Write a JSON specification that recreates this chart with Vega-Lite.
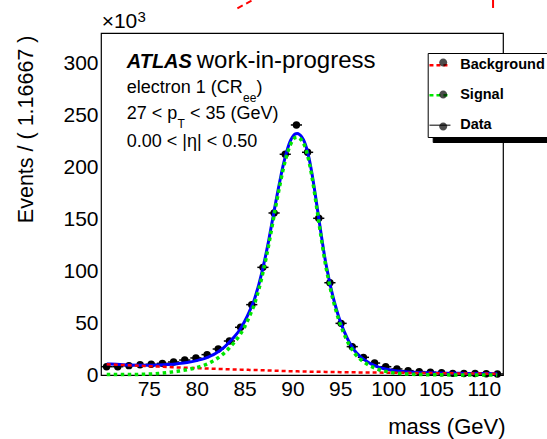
{
  "$schema": "https://vega.github.io/schema/vega-lite/v6.json",
  "autosize": {"type": "none"},
  "width": 402,
  "height": 342,
  "padding": {"left": 101, "top": 33, "right": 44, "bottom": 64},
  "background": "#ffffff",
  "config": {
    "font": "Liberation Sans",
    "view": {"stroke": "#000000", "strokeWidth": 1.2},
    "axis": {"grid": false, "domain": false, "labelFont": "Liberation Sans", "labelFontSize": 21, "labelColor": "#000000", "tickColor": "#000000", "tickWidth": 1, "titleFont": "Liberation Sans", "titleFontWeight": "normal", "titleColor": "#000000", "labelOverlap": false, "labelFlush": false, "tickSize": 0}
  },
  "datasets": {
    "bins": [
      {"mass": 70.583, "lo": 70.0, "hi": 71.167, "events": 8.0},
      {"mass": 71.75, "lo": 71.167, "hi": 72.333, "events": 8.0},
      {"mass": 72.917, "lo": 72.333, "hi": 73.5, "events": 9.0},
      {"mass": 74.083, "lo": 73.5, "hi": 74.667, "events": 9.9},
      {"mass": 75.25, "lo": 74.667, "hi": 75.833, "events": 10.3},
      {"mass": 76.417, "lo": 75.833, "hi": 77.0, "events": 11.2},
      {"mass": 77.583, "lo": 77.0, "hi": 78.167, "events": 12.5},
      {"mass": 78.75, "lo": 78.167, "hi": 79.333, "events": 14.4},
      {"mass": 79.917, "lo": 79.333, "hi": 80.5, "events": 16.4},
      {"mass": 81.083, "lo": 80.5, "hi": 81.667, "events": 19.6},
      {"mass": 82.25, "lo": 81.667, "hi": 82.833, "events": 25.0},
      {"mass": 83.417, "lo": 82.833, "hi": 84.0, "events": 32.7},
      {"mass": 84.583, "lo": 84.0, "hi": 85.167, "events": 45.9},
      {"mass": 85.75, "lo": 85.167, "hi": 86.333, "events": 67.7},
      {"mass": 86.917, "lo": 86.333, "hi": 87.5, "events": 103.6},
      {"mass": 88.083, "lo": 87.5, "hi": 88.667, "events": 155.9},
      {"mass": 89.25, "lo": 88.667, "hi": 89.833, "events": 212.4},
      {"mass": 90.417, "lo": 89.833, "hi": 91.0, "events": 240.6},
      {"mass": 91.583, "lo": 91.0, "hi": 92.167, "events": 214.3},
      {"mass": 92.75, "lo": 92.167, "hi": 93.333, "events": 150.8},
      {"mass": 93.917, "lo": 93.333, "hi": 94.5, "events": 88.8},
      {"mass": 95.083, "lo": 94.5, "hi": 95.667, "events": 49.7},
      {"mass": 96.25, "lo": 95.667, "hi": 96.833, "events": 27.3},
      {"mass": 97.417, "lo": 96.833, "hi": 98.0, "events": 17.0},
      {"mass": 98.583, "lo": 98.0, "hi": 99.167, "events": 11.5},
      {"mass": 99.75, "lo": 99.167, "hi": 100.333, "events": 8.0},
      {"mass": 100.917, "lo": 100.333, "hi": 101.5, "events": 5.8},
      {"mass": 102.083, "lo": 101.5, "hi": 102.667, "events": 4.2},
      {"mass": 103.25, "lo": 102.667, "hi": 103.833, "events": 3.2},
      {"mass": 104.417, "lo": 103.833, "hi": 105.0, "events": 2.6},
      {"mass": 105.583, "lo": 105.0, "hi": 106.167, "events": 2.2},
      {"mass": 106.75, "lo": 106.167, "hi": 107.333, "events": 1.6},
      {"mass": 107.917, "lo": 107.333, "hi": 108.5, "events": 1.5},
      {"mass": 109.083, "lo": 108.5, "hi": 109.667, "events": 1.4},
      {"mass": 110.25, "lo": 109.667, "hi": 110.833, "events": 1.2},
      {"mass": 111.417, "lo": 110.833, "hi": 112.0, "events": 1.0}
    ],
    "curves": [
      {"mass": 70.6, "total": 10.7, "background": 10.3, "signal": 0.4},
      {"mass": 71, "total": 10.5, "background": 10.13, "signal": 0.4},
      {"mass": 72, "total": 10.1, "background": 9.7, "signal": 0.4},
      {"mass": 73, "total": 9.7, "background": 9.3, "signal": 0.4},
      {"mass": 74, "total": 9.5, "background": 8.9, "signal": 0.6},
      {"mass": 75, "total": 9.4, "background": 8.5, "signal": 0.9},
      {"mass": 76, "total": 9.6, "background": 8.1, "signal": 1.5},
      {"mass": 77, "total": 10.1, "background": 7.7, "signal": 2.4},
      {"mass": 78, "total": 10.9, "background": 7.3, "signal": 3.6},
      {"mass": 79, "total": 12.0, "background": 6.95, "signal": 5.05},
      {"mass": 80, "total": 13.8, "background": 6.6, "signal": 7.2},
      {"mass": 80.5, "total": 15.0, "background": 6.43, "signal": 8.57},
      {"mass": 81, "total": 16.5, "background": 6.25, "signal": 10.25},
      {"mass": 81.5, "total": 18.5, "background": 6.08, "signal": 12.42},
      {"mass": 82, "total": 21.0, "background": 5.9, "signal": 15.1},
      {"mass": 82.5, "total": 24.0, "background": 5.75, "signal": 18.25},
      {"mass": 83, "total": 27.8, "background": 5.6, "signal": 22.2},
      {"mass": 83.5, "total": 32.5, "background": 5.45, "signal": 27.05},
      {"mass": 84, "total": 37.5, "background": 5.3, "signal": 32.2},
      {"mass": 84.5, "total": 43.5, "background": 5.18, "signal": 38.32},
      {"mass": 85, "total": 51.5, "background": 5.05, "signal": 46.45},
      {"mass": 85.5, "total": 61.0, "background": 4.93, "signal": 56.07},
      {"mass": 85.75, "total": 66.5, "background": 4.86, "signal": 61.64},
      {"mass": 86, "total": 72.0, "background": 4.8, "signal": 67.2},
      {"mass": 86.25, "total": 79.5, "background": 4.73, "signal": 74.77},
      {"mass": 86.5, "total": 87.5, "background": 4.65, "signal": 82.85},
      {"mass": 86.75, "total": 96.5, "background": 4.58, "signal": 91.92},
      {"mass": 87, "total": 106.5, "background": 4.5, "signal": 102.0},
      {"mass": 87.25, "total": 117.0, "background": 4.43, "signal": 112.57},
      {"mass": 87.5, "total": 128.5, "background": 4.35, "signal": 124.15},
      {"mass": 87.75, "total": 141.0, "background": 4.28, "signal": 136.72},
      {"mass": 88, "total": 153.5, "background": 4.2, "signal": 149.3},
      {"mass": 88.25, "total": 166.0, "background": 4.13, "signal": 161.87},
      {"mass": 88.5, "total": 178.0, "background": 4.05, "signal": 173.95},
      {"mass": 88.75, "total": 189.5, "background": 3.98, "signal": 185.52},
      {"mass": 89, "total": 200.5, "background": 3.9, "signal": 196.6},
      {"mass": 89.25, "total": 210.0, "background": 3.83, "signal": 206.17},
      {"mass": 89.5, "total": 218.0, "background": 3.75, "signal": 214.25},
      {"mass": 89.75, "total": 224.5, "background": 3.68, "signal": 220.82},
      {"mass": 90, "total": 229.0, "background": 3.6, "signal": 225.4},
      {"mass": 90.25, "total": 231.8, "background": 3.55, "signal": 228.25},
      {"mass": 90.5, "total": 232.4, "background": 3.5, "signal": 228.9},
      {"mass": 90.75, "total": 231.3, "background": 3.45, "signal": 227.85},
      {"mass": 91, "total": 228.8, "background": 3.4, "signal": 225.4},
      {"mass": 91.25, "total": 224.5, "background": 3.35, "signal": 221.15},
      {"mass": 91.5, "total": 217.5, "background": 3.3, "signal": 214.2},
      {"mass": 91.75, "total": 208.0, "background": 3.25, "signal": 204.75},
      {"mass": 92, "total": 196.0, "background": 3.2, "signal": 192.8},
      {"mass": 92.25, "total": 182.0, "background": 3.16, "signal": 178.84},
      {"mass": 92.5, "total": 166.5, "background": 3.13, "signal": 163.37},
      {"mass": 92.75, "total": 151.0, "background": 3.09, "signal": 147.91},
      {"mass": 93, "total": 135.5, "background": 3.05, "signal": 132.45},
      {"mass": 93.25, "total": 120.5, "background": 3.01, "signal": 117.49},
      {"mass": 93.5, "total": 107.0, "background": 2.98, "signal": 104.02},
      {"mass": 93.75, "total": 95.5, "background": 2.94, "signal": 92.56},
      {"mass": 94, "total": 84.5, "background": 2.9, "signal": 81.6},
      {"mass": 94.25, "total": 75.0, "background": 2.86, "signal": 72.14},
      {"mass": 94.5, "total": 66.5, "background": 2.83, "signal": 63.67},
      {"mass": 94.75, "total": 58.5, "background": 2.79, "signal": 55.71},
      {"mass": 95, "total": 51.5, "background": 2.75, "signal": 48.75},
      {"mass": 95.25, "total": 45.5, "background": 2.71, "signal": 42.79},
      {"mass": 95.5, "total": 40.0, "background": 2.68, "signal": 37.32},
      {"mass": 95.75, "total": 35.0, "background": 2.64, "signal": 32.36},
      {"mass": 96, "total": 30.5, "background": 2.6, "signal": 27.9},
      {"mass": 96.25, "total": 27.0, "background": 2.58, "signal": 24.42},
      {"mass": 96.5, "total": 23.5, "background": 2.55, "signal": 20.95},
      {"mass": 97, "total": 18.5, "background": 2.5, "signal": 16.0},
      {"mass": 97.5, "total": 14.8, "background": 2.45, "signal": 12.35},
      {"mass": 98, "total": 11.8, "background": 2.4, "signal": 9.4},
      {"mass": 98.5, "total": 9.5, "background": 2.35, "signal": 7.15},
      {"mass": 99, "total": 7.6, "background": 2.3, "signal": 5.3},
      {"mass": 99.5, "total": 6.2, "background": 2.25, "signal": 3.95},
      {"mass": 100, "total": 5.2, "background": 2.2, "signal": 3.0},
      {"mass": 100.5, "total": 4.4, "background": 2.17, "signal": 2.23},
      {"mass": 101, "total": 3.8, "background": 2.13, "signal": 1.67},
      {"mass": 101.5, "total": 3.3, "background": 2.1, "signal": 1.2},
      {"mass": 102, "total": 3.0, "background": 2.07, "signal": 0.93},
      {"mass": 103, "total": 2.5, "background": 2.0, "signal": 0.5},
      {"mass": 104, "total": 2.2, "background": 1.88, "signal": 0.32},
      {"mass": 105, "total": 2.0, "background": 1.77, "signal": 0.23},
      {"mass": 106, "total": 1.8, "background": 1.65, "signal": 0.15},
      {"mass": 107, "total": 1.65, "background": 1.57, "signal": 0.08},
      {"mass": 108, "total": 1.55, "background": 1.5, "signal": 0.05},
      {"mass": 109, "total": 1.45, "background": 1.42, "signal": 0.03},
      {"mass": 110, "total": 1.38, "background": 1.35, "signal": 0.03},
      {"mass": 111, "total": 1.32, "background": 1.28, "signal": 0.04},
      {"mass": 111.4, "total": 1.3, "background": 1.25, "signal": 0.05}
    ]
  },
  "resolve": {"axis": {"x": "independent", "y": "independent"}},
  "layer": [
    {
      "data": {"values": []},
      "mark": {"type": "point", "filled": true},
      "encoding": {
        "x": {"datum": 90, "type": "quantitative", "axis": null},
        "y": {"datum": 100, "type": "quantitative", "axis": null},
        "color": {
          "datum": "Background ", "type": "nominal",
          "scale": {"domain": ["Background ", "Signal ", "Data "], "range": ["#000000", "#000000", "#000000"]},
          "legend": {"orient": "none", "legendX": 331.7, "legendY": 24, "title": null, "fillColor": "#000000", "strokeColor": "#000000", "padding": 5, "symbolType": "stroke", "symbolSize": 441, "symbolStrokeWidth": 2.5, "labelFont": "Liberation Sans", "labelFontSize": 14.5, "labelFontWeight": "bold", "labelColor": "#000000", "labelOffset": 13, "rowPadding": 9}
        }
      }
    },
    {
      "data": {"name": "bins"},
      "mark": {"type": "rule", "color": "#000000", "strokeWidth": 1.5},
      "encoding": {
        "x": {"field": "lo", "type": "quantitative", "axis": null},
        "x2": {"field": "hi"},
        "y": {"field": "events", "type": "quantitative", "axis": null}
      }
    },
    {
      "data": {"name": "bins"},
      "mark": {"type": "circle", "size": 55, "color": "#000000", "opacity": 1},
      "encoding": {
        "x": {
          "field": "mass", "type": "quantitative",
          "scale": {"domain": [70, 112], "nice": false, "zero": false},
          "axis": {
            "orient": "bottom", "title": "mass (GeV)",
            "values": [70,71,72,73,74,75,76,77,78,79,80,81,82,83,84,85,86,87,88,89,90,91,92,93,94,95,96,97,98,99,100,101,102,103,104,105,106,107,108,109,110,111,112],
            "labelExpr": "datum.value % 5 === 0 && datum.value > 70 && datum.value < 112 ? datum.label : ''",
            "labelPadding": 3, "tickSize": 0,
            "titleFontSize": 22, "titleAnchor": "end", "titleAlign": "right", "titleBaseline": "alphabetic", "titleX": 404, "titleY": 58,
            "encode": {"ticks": {"update": {"y2": {"signal": "datum.value % 5 === 0 ? -11 : -6"}}}}
          }
        },
        "y": {
          "field": "events", "type": "quantitative",
          "scale": {"domain": [0, 329.1], "nice": false, "zero": true},
          "axis": {
            "orient": "left", "title": "Events / ( 1.16667 )",
            "values": [0,10,20,30,40,50,60,70,80,90,100,110,120,130,140,150,160,170,180,190,200,210,220,230,240,250,260,270,280,290,300,310,320],
            "format": "d",
            "labelExpr": "datum.value % 50 === 0 ? datum.label : ''",
            "labelPadding": 3, "tickSize": 0,
            "titleFontSize": 21.5, "titleAngle": -90, "titleAnchor": "end", "titleAlign": "right", "titleBaseline": "alphabetic", "titleX": -69, "titleY": 2,
            "encode": {"ticks": {"update": {"x2": {"signal": "datum.value % 50 === 0 ? 13 : 7"}}}}
          }
        }
      }
    },
    {
      "data": {"name": "curves"},
      "mark": {"type": "line", "color": "#0000ff", "strokeWidth": 3, "interpolate": "monotone"},
      "encoding": {
        "x": {
          "field": "mass", "type": "quantitative",
          "axis": {
            "orient": "top", "title": null, "labels": false, "tickSize": 0,
            "values": [70,71,72,73,74,75,76,77,78,79,80,81,82,83,84,85,86,87,88,89,90,91,92,93,94,95,96,97,98,99,100,101,102,103,104,105,106,107,108,109,110,111,112],
            "encode": {"ticks": {"update": {"y2": {"signal": "datum.value % 5 === 0 ? 11 : 6"}}}}
          }
        },
        "y": {
          "field": "total", "type": "quantitative",
          "axis": {
            "orient": "right", "title": null, "labels": false, "tickSize": 0,
            "values": [0,10,20,30,40,50,60,70,80,90,100,110,120,130,140,150,160,170,180,190,200,210,220,230,240,250,260,270,280,290,300,310,320],
            "encode": {"ticks": {"update": {"x2": {"signal": "datum.value % 50 === 0 ? -13 : -7"}}}}
          }
        }
      }
    },
    {
      "data": {"name": "curves"},
      "mark": {"type": "line", "strokeWidth": 2.5, "strokeDash": [4, 3], "interpolate": "monotone"},
      "encoding": {
        "x": {"field": "mass", "type": "quantitative", "axis": null},
        "y": {"field": "background", "type": "quantitative", "axis": null},
        "stroke": {
          "datum": "Background", "type": "nominal",
          "scale": {"domain": ["Background", "Signal", "Data"], "range": ["#ff0000", "#00e600", "#555555"]},
          "legend": {"orient": "none", "legendX": 326.7, "legendY": 20, "title": null, "fillColor": "#ffffff", "strokeColor": "#000000", "padding": 5, "symbolType": "stroke", "symbolSize": 441, "symbolStrokeWidth": 2.5, "labelFont": "Liberation Sans", "labelFontSize": 14.5, "labelFontWeight": "bold", "labelColor": "#000000", "labelOffset": 13, "rowPadding": 15,
            "encode": {"symbols": {"update": {"strokeDash": {"signal": "datum.value === 'Data' ? [1, 0] : [4, 3]"}, "strokeWidth": {"signal": "datum.value === 'Data' ? 1.5 : 2.5"}}}}}
        }
      }
    },
    {
      "data": {"name": "curves"},
      "mark": {"type": "line", "strokeWidth": 3.5, "strokeDash": [3.5, 3.5], "interpolate": "monotone"},
      "encoding": {
        "x": {"field": "mass", "type": "quantitative", "axis": null},
        "y": {"field": "signal", "type": "quantitative", "axis": null},
        "stroke": {
          "datum": "Signal", "type": "nominal",
          "scale": {"domain": ["Background", "Signal", "Data"], "range": ["#ff0000", "#00e600", "#555555"]},
          "legend": {"orient": "none", "legendX": 326.7, "legendY": 20, "title": null, "fillColor": "#ffffff", "strokeColor": "#000000", "padding": 5, "symbolType": "stroke", "symbolSize": 441, "symbolStrokeWidth": 2.5, "labelFont": "Liberation Sans", "labelFontSize": 14.5, "labelFontWeight": "bold", "labelColor": "#000000", "labelOffset": 13, "rowPadding": 15,
            "encode": {"symbols": {"update": {"strokeDash": {"signal": "datum.value === 'Data' ? [1, 0] : [4, 3]"}, "strokeWidth": {"signal": "datum.value === 'Data' ? 1.5 : 2.5"}}}}}
        }
      }
    },
    {
      "data": {"values": [{}]},
      "mark": {"type": "rule", "color": "#ff0000", "strokeWidth": 2, "strokeDash": [6, 4]},
      "encoding": {
        "x": {"datum": 84.25, "type": "quantitative", "axis": null},
        "y": {"datum": 352.9, "type": "quantitative", "axis": null},
        "x2": {"datum": 85.89},
        "y2": {"datum": 361}
      }
    },
    {
      "data": {"values": [{}]},
      "mark": {"type": "rule", "color": "#ff0000", "strokeWidth": 2},
      "encoding": {
        "x": {"datum": 110.96, "type": "quantitative", "axis": null},
        "y": {"datum": 353.2, "type": "quantitative", "axis": null},
        "y2": {"datum": 361}
      }
    },
    {
      "data": {"values": [{}]},
      "mark": {"type": "text", "text": "×10", "align": "left", "baseline": "alphabetic", "fontSize": 21, "font": "Liberation Sans", "color": "#000000"},
      "encoding": {"x": {"datum": 70.07, "type": "quantitative", "axis": null}, "y": {"datum": 333.7, "type": "quantitative", "axis": null}}
    },
    {
      "data": {"values": [{}]},
      "mark": {"type": "text", "text": "3", "align": "left", "baseline": "alphabetic", "fontSize": 15, "font": "Liberation Sans", "color": "#000000"},
      "encoding": {"x": {"datum": 73.816, "type": "quantitative", "axis": null}, "y": {"datum": 339.75, "type": "quantitative", "axis": null}}
    },
    {
      "data": {"values": [{}]},
      "mark": {"type": "text", "text": "ATLAS", "align": "left", "baseline": "alphabetic", "fontSize": 20, "fontWeight": "bold", "fontStyle": "italic", "font": "Liberation Sans", "color": "#000000"},
      "encoding": {"x": {"datum": 72.687, "type": "quantitative", "axis": null}, "y": {"datum": 295.2, "type": "quantitative", "axis": null}}
    },
    {
      "data": {"values": [{}]},
      "mark": {"type": "text", "text": "work-in-progress", "align": "left", "baseline": "alphabetic", "fontSize": 24, "font": "Liberation Sans", "color": "#000000"},
      "encoding": {"x": {"datum": 80.006, "type": "quantitative", "axis": null}, "y": {"datum": 295.2, "type": "quantitative", "axis": null}}
    },
    {
      "data": {"values": [{}]},
      "mark": {"type": "text", "text": "electron 1 (CR", "align": "left", "baseline": "alphabetic", "fontSize": 18, "font": "Liberation Sans", "color": "#000000"},
      "encoding": {"x": {"datum": 72.687, "type": "quantitative", "axis": null}, "y": {"datum": 271.1, "type": "quantitative", "axis": null}}
    },
    {
      "data": {"values": [{}]},
      "mark": {"type": "text", "text": "ee", "align": "left", "baseline": "alphabetic", "fontSize": 12, "font": "Liberation Sans", "color": "#000000"},
      "encoding": {"x": {"datum": 84.847, "type": "quantitative", "axis": null}, "y": {"datum": 263.0, "type": "quantitative", "axis": null}}
    },
    {
      "data": {"values": [{}]},
      "mark": {"type": "text", "text": ")", "align": "left", "baseline": "alphabetic", "fontSize": 18, "font": "Liberation Sans", "color": "#000000"},
      "encoding": {"x": {"datum": 86.259, "type": "quantitative", "axis": null}, "y": {"datum": 271.1, "type": "quantitative", "axis": null}}
    },
    {
      "data": {"values": [{}]},
      "mark": {"type": "text", "text": "27 < p", "align": "left", "baseline": "alphabetic", "fontSize": 18, "font": "Liberation Sans", "color": "#000000"},
      "encoding": {"x": {"datum": 72.687, "type": "quantitative", "axis": null}, "y": {"datum": 246.1, "type": "quantitative", "axis": null}}
    },
    {
      "data": {"values": [{}]},
      "mark": {"type": "text", "text": "T", "align": "left", "baseline": "alphabetic", "fontSize": 12, "font": "Liberation Sans", "color": "#000000"},
      "encoding": {"x": {"datum": 77.999, "type": "quantitative", "axis": null}, "y": {"datum": 237.4, "type": "quantitative", "axis": null}}
    },
    {
      "data": {"values": [{}]},
      "mark": {"type": "text", "text": "< 35 (GeV)", "align": "left", "baseline": "alphabetic", "fontSize": 18, "font": "Liberation Sans", "color": "#000000"},
      "encoding": {"x": {"datum": 79.306, "type": "quantitative", "axis": null}, "y": {"datum": 246.1, "type": "quantitative", "axis": null}}
    },
    {
      "data": {"values": [{}]},
      "mark": {"type": "text", "text": "0.00 < |η| < 0.50", "align": "left", "baseline": "alphabetic", "fontSize": 18, "font": "Liberation Sans", "color": "#000000"},
      "encoding": {"x": {"datum": 72.687, "type": "quantitative", "axis": null}, "y": {"datum": 219.7, "type": "quantitative", "axis": null}}
    },
    {
      "data": {"values": []},
      "mark": {"type": "point", "filled": true, "color": "#000000"},
      "encoding": {
        "x": {"datum": 90, "type": "quantitative", "axis": null},
        "y": {"datum": 100, "type": "quantitative", "axis": null},
        "shape": {
          "datum": "Data  ", "type": "nominal",
          "scale": {"domain": ["Background  ", "Signal  ", "Data  "], "range": ["M-0.38,0A0.38,0.38,0,1,1,0.38,0A0.38,0.38,0,1,1,-0.38,0Z", "M-0.38,0A0.38,0.38,0,1,1,0.38,0A0.38,0.38,0,1,1,-0.38,0Z", "M-0.38,0A0.38,0.38,0,1,1,0.38,0A0.38,0.38,0,1,1,-0.38,0Z"]},
          "legend": {"orient": "none", "legendX": 326.7, "legendY": 14, "title": null, "padding": 5, "symbolSize": 441, "symbolFillColor": "#000000", "symbolStrokeColor": "#000000", "symbolStrokeWidth": 0, "labelFont": "Liberation Sans", "labelFontSize": 14.5, "labelFontWeight": "bold", "labelOpacity": 0, "labelOffset": 13, "rowPadding": 15}
        }
      }
    }
  ]
}
